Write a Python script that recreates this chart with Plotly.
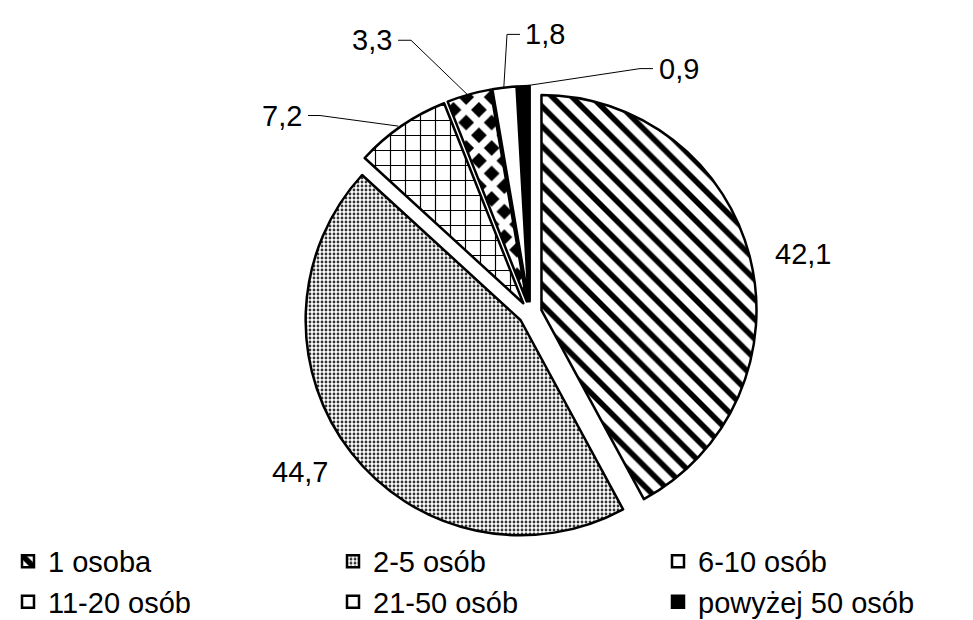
import math
import plotly.graph_objects as go

# ---- data ----
categories = ["1 osoba", "2-5 osób", "6-10 osób", "11-20 osób", "21-50 osób", "powyżej 50 osób"]
values = [42.1, 44.7, 7.2, 3.3, 1.8, 0.9]

# ---- layout constants (pixels) ----
W, H = 973, 620
CX, CY = 522, 312          # pie centre
R = 220                     # pie radius
PULL = 0.055                # explode fraction
FONT = "Liberation Sans, Arial, sans-serif"
FS = 29

half = R * (1 + PULL)
dom_x = [(CX - half) / W, (CX + half) / W]
dom_y = [1 - (CY + half) / H, 1 - (CY - half) / H]

def px(x):
    return x / W

def py(y):
    return 1 - y / H

fig = go.Figure(go.Pie(
    labels=categories,
    values=values,
    sort=False,
    direction="clockwise",
    rotation=0,
    pull=[PULL] * len(values),
    textinfo="none",
    hoverinfo="label+value",
    domain=dict(x=dom_x, y=dom_y),
    marker=dict(
        colors=["white", "white", "white", "black", "white", "black"],
        line=dict(color="black", width=2.5),
        pattern=dict(
            shape=["\\", ".", "+", "x", "", ""],
            fgcolor=["black", "#333333", "black", "white", "black", "black"],
            bgcolor=["white", "white", "white", "black", "white", "black"],
            size=[14, 4, 15, 18, 10, 10],
            solidity=[0.4, 0.4, 0.15, 0.62, 0.3, 0.3],
            fillmode="replace",
        ),
    ),
))

# ---- data labels computed from slice geometry ----
total = sum(values)
cum = 0
anchors = []
for v in values:
    mid = (cum + v / 2) / total * 2 * math.pi
    dx, dy = math.sin(mid), -math.cos(mid)
    anchors.append((CX + (R + R * PULL) * dx, CY + (R + R * PULL) * dy))
    cum += v

label_text = [f"{v:.1f}".replace(".", ",") for v in values]
# label centre positions (px)
label_pos = [(795, 252), (292, 475), (274, 110), (364, 33), (537, 27), (671, 62)]
# leader lines: elbow and end points (px); None for no leader
elbows = [None, None, (312, 110), (403, 33), (499, 27), (632, 62)]
ends = [None, None, (300, 110), (390, 33), (512, 27), (645, 62)]

annotations = []
shapes = []
for i, (t, (lx, ly)) in enumerate(zip(label_text, label_pos)):
    annotations.append(dict(
        x=px(lx), y=py(ly), xref="paper", yref="paper",
        text=t, showarrow=False, xanchor="center", yanchor="middle",
        font=dict(family=FONT, size=FS, color="black"),
    ))
    if elbows[i] is not None:
        ax, ay = anchors[i]
        ex, ey = elbows[i]
        fx, fy = ends[i]
        shapes.append(dict(
            type="path", xref="paper", yref="paper",
            path=f"M {px(ax)} {py(ay)} L {px(ex)} {py(ey)} L {px(fx)} {py(fy)}",
            line=dict(color="black", width=1),
        ))

fig.update_layout(
    width=W, height=H,
    margin=dict(l=0, r=0, t=0, b=0),
    paper_bgcolor="white",
    plot_bgcolor="white",
    font=dict(family=FONT, size=FS, color="black"),
    showlegend=True,
    legend=dict(
        orientation="h",
        x=0, xanchor="left",
        y=py(540), yanchor="top",
        entrywidth=280, entrywidthmode="pixels",
        font=dict(family=FONT, size=FS, color="black"),
        itemwidth=30,
        traceorder="normal",
        bgcolor="rgba(0,0,0,0)",
    ),
    annotations=annotations,
    shapes=shapes,
)

fig.write_html("out.html")
